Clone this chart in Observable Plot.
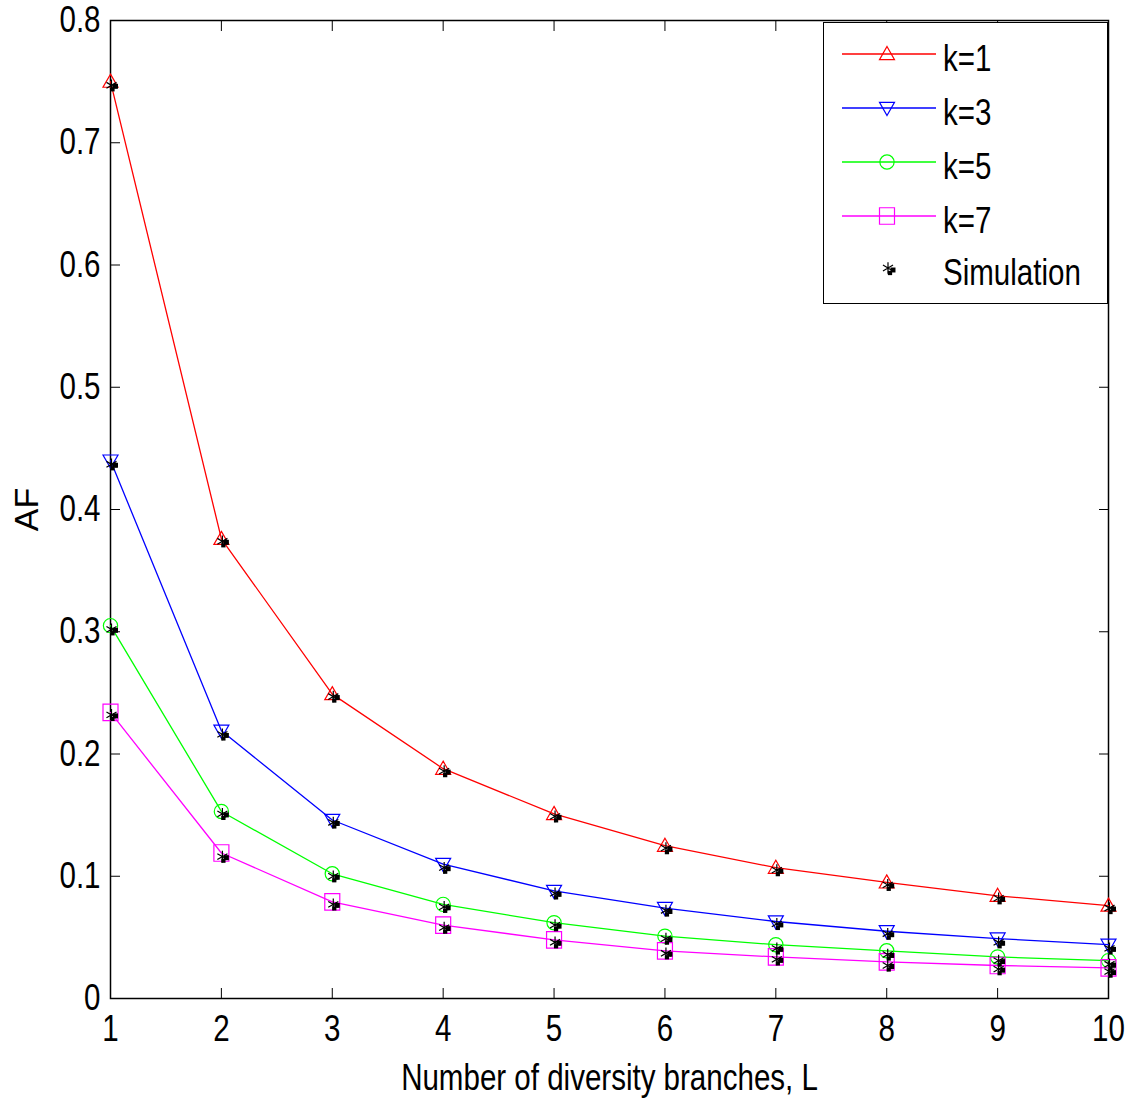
<!DOCTYPE html>
<html>
<head>
<meta charset="utf-8">
<script src="https://cdn.jsdelivr.net/npm/d3@7"></script>
<script src="https://cdn.jsdelivr.net/npm/@observablehq/plot@0.6"></script>
<style>
  html, body { margin: 0; padding: 0; background: #fff; }
  #wrap { position: relative; width: 1135px; height: 1105px; }
  #legend { position: absolute; left: 823px; top: 22px; overflow: visible; }
  svg text { font-family: "Liberation Sans Narrow", "Arial Narrow", "Liberation Sans", Arial, sans-serif; }
</style>
</head>
<body>
<div id="wrap"></div>
<script>
// ---- data ----
const branches = [1, 2, 3, 4, 5, 6, 7, 8, 9, 10];
const seriesNames = ["k=1", "k=3", "k=5", "k=7"];
const afK1 = [0.750, 0.376, 0.249, 0.188, 0.151, 0.125, 0.107, 0.095, 0.084, 0.076];
const afK3 = [0.440, 0.219, 0.146, 0.110, 0.088, 0.074, 0.063, 0.055, 0.049, 0.044];
const afK5 = [0.305, 0.153, 0.102, 0.077, 0.062, 0.051, 0.044, 0.039, 0.034, 0.031];
const afK7 = [0.234, 0.119, 0.079, 0.060, 0.048, 0.039, 0.034, 0.030, 0.027, 0.025];
const simK1 = [0.747, 0.374, 0.247, 0.186, 0.149, 0.123, 0.105, 0.093, 0.082, 0.074];
const simK3 = [0.437, 0.216, 0.144, 0.107, 0.086, 0.072, 0.061, 0.053, 0.046, 0.041];
const simK5 = [0.302, 0.151, 0.100, 0.075, 0.060, 0.049, 0.041, 0.036, 0.031, 0.028];
const simK7 = [0.232, 0.116, 0.077, 0.058, 0.046, 0.037, 0.032, 0.027, 0.024, 0.022];
const xTicks = [1, 2, 3, 4, 5, 6, 7, 8, 9, 10];
const yTicks = [0, 0.1, 0.2, 0.3, 0.4, 0.5, 0.6, 0.7, 0.8];
const colors = ["#ff0000", "#0000ff", "#00ff00", "#ff00ff"];

const theory = [afK1, afK3, afK5, afK7];
const sims = [simK1, simK3, simK5, simK7];

// ---- symbols ----
const triUp = { draw(ctx, size) { const r = Math.sqrt(size / Math.PI); ctx.moveTo(0, -r); ctx.lineTo(r, r * 0.75); ctx.lineTo(-r, r * 0.75); ctx.closePath(); } };
const triDown = { draw(ctx, size) { const r = Math.sqrt(size / Math.PI); ctx.moveTo(0, r); ctx.lineTo(r, -r * 0.75); ctx.lineTo(-r, -r * 0.75); ctx.closePath(); } };
const circ = { draw(ctx, size) { const r = Math.sqrt(size / Math.PI); ctx.moveTo(r * 0.95, 0); ctx.arc(0, 0, r * 0.95, 0, 2 * Math.PI); } };
const sq = { draw(ctx, size) { const r = Math.sqrt(size / Math.PI); ctx.rect(-r, -r * 1.1, 2 * r, 2.2 * r); } };
const symbols = [triUp, triDown, circ, sq];

const rows = [];
const simRows = [];
seriesNames.forEach((s, i) => {
  branches.forEach((L, j) => {
    rows.push({ L, AF: theory[i][j], series: s });
    simRows.push({ L, AF: sims[i][j], series: s });
  });
});

const marks = [Plot.frame({ stroke: "black", strokeWidth: 1.5 })];
seriesNames.forEach((s, i) => {
  const d = rows.filter(r => r.series === s);
  marks.push(Plot.line(d, { x: "L", y: "AF", stroke: colors[i], strokeWidth: 1.3 }));
  marks.push(Plot.dot(d, { x: "L", y: "AF", stroke: colors[i], symbol: symbols[i], r: 7.5, strokeWidth: 1.2 }));
});
marks.push(Plot.dot(simRows, { x: "L", y: "AF", symbol: "asterisk", stroke: "black", r: 5.5, strokeWidth: 1.2, dx: 1 }));
marks.push(Plot.dot(simRows, { x: "L", y: "AF", symbol: "square", fill: "black", r: 2.8, dx: 5, dy: 1 }));
marks.push(Plot.dot(simRows, { x: "L", y: "AF", symbol: "square", fill: "black", r: 2.4, dx: 2, dy: 4 }));

// inward ticks on all four sides
marks.push(Plot.axisX(xTicks, { anchor: "bottom", tickSize: -10, tickFormat: () => "", label: null }));
marks.push(Plot.axisX(xTicks, { anchor: "top", tickSize: -10, tickFormat: () => "", label: null }));
marks.push(Plot.axisY(yTicks, { anchor: "left", tickSize: -10, tickFormat: () => "", label: null }));
marks.push(Plot.axisY(yTicks, { anchor: "right", tickSize: -10, tickFormat: () => "", label: null }));
// tick labels and titles
marks.push(Plot.axisX(xTicks, { anchor: "bottom", tickSize: 0, tickPadding: 17, fontSize: 36, label: "Number of diversity branches, L", labelAnchor: "center", labelOffset: 91, labelArrow: "none" }));
marks.push(Plot.axisY(yTicks, { anchor: "left", tickSize: 0, tickPadding: 10, fontSize: 36, tickFormat: d => d === 0 ? "0" : d.toFixed(1), label: null }));
marks.push(Plot.axisY(yTicks, { anchor: "left", tickSize: 0, tickFormat: () => "", fontSize: 34, label: "AF", labelAnchor: "center", labelOffset: 97, labelArrow: "none" }));

const chart = Plot.plot({
  width: 1135,
  height: 1105,
  marginLeft: 110,
  marginRight: 27,
  marginTop: 20,
  marginBottom: 107,
  x: { domain: [1, 10] },
  y: { domain: [0, 0.8] },
  style: { fontFamily: '"Liberation Sans Narrow", "Liberation Sans", Arial, sans-serif', fontSize: "36px", color: "black", background: "white" },
  marks
});
document.getElementById("wrap").appendChild(chart);

// ---- legend (overlay) ----
const lw = 285, lh = 282;
const leg = d3.select("#wrap").append("svg")
  .attr("id", "legend").attr("width", 310).attr("height", lh);
leg.append("rect").attr("x", 0.5).attr("y", 0.5).attr("width", lw - 1).attr("height", lh - 1)
  .attr("fill", "white").attr("stroke", "black").attr("stroke-width", 1);
const rowY = i => 32 + i * 54;
seriesNames.forEach((s, i) => {
  const g = leg.append("g").attr("transform", `translate(0,${rowY(i)})`);
  g.append("line").attr("x1", 19).attr("x2", 113).attr("y1", 0).attr("y2", 0).attr("stroke", colors[i]).attr("stroke-width", 1.3);
  g.append("path").attr("d", d3.symbol(symbols[i], 7.5 * 7.5 * Math.PI)()).attr("transform", "translate(64,0)")
    .attr("fill", "none").attr("stroke", colors[i]).attr("stroke-width", 1.2);
  g.append("text").attr("x", 120).attr("y", 4).attr("dy", "0.35em").attr("font-size", 36).text(s);
});
const gs = leg.append("g").attr("transform", `translate(0,${rowY(4)})`);
gs.append("path").attr("d", d3.symbol(d3.symbolAsterisk, 5.5 * 5.5 * Math.PI)()).attr("transform", "translate(65,-2)").attr("stroke", "black").attr("stroke-width", 1.2).attr("fill", "none");
gs.append("path").attr("d", d3.symbol(d3.symbolSquare, 2.8 * 2.8 * Math.PI)()).attr("transform", "translate(70,0)").attr("fill", "black");
gs.append("path").attr("d", d3.symbol(d3.symbolSquare, 2.4 * 2.4 * Math.PI)()).attr("transform", "translate(67,3)").attr("fill", "black");
gs.append("text").attr("x", 120).attr("y", 2).attr("dy", "0.35em").attr("font-size", 36).text("Simulation");

// ---- condense text horizontally (narrow sans look), except the "AF" title ----
d3.select("#wrap").selectAll("text").each(function () {
  if (this.querySelector("tspan")) return;
  if (this.textContent === "AF") return;
  const len = this.getComputedTextLength();
  if (len > 0) {
    this.setAttribute("textLength", (len * 0.82).toFixed(2));
    this.setAttribute("lengthAdjust", "spacingAndGlyphs");
  }
});
</script>
</body>
</html>
